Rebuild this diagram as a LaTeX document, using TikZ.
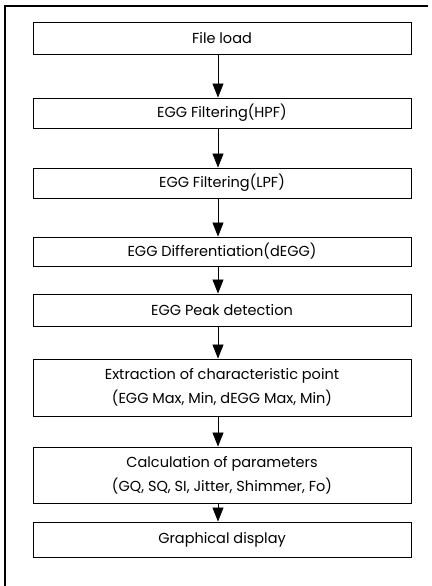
\documentclass[tikz,border=0pt]{standalone}
\usepackage{fontspec}
\setmainfont{Poppins}
\usetikzlibrary{arrows.meta}
\begin{document}
\begin{tikzpicture}[x=1pt,y=-1pt,
  stepbox/.style={draw, line width=0.9pt, minimum width=378pt, inner sep=0pt, align=center, font=\fontsize{14.5}{24}\selectfont},
  flow/.style={draw, line width=0.8pt, -{Triangle[width=11pt,length=14pt]}},
  frame/.style={draw, line width=1.3pt}]
\useasboundingbox (0,0) rectangle (431,586);
\fill[white] (0,0) rectangle (431,586);
\coordinate (tl) at (5,6);
\coordinate (tr) at (428,6);
\coordinate (bl) at (5,586);
\draw[frame] (tr) -- (tl) -- (bl);
\node[stepbox, minimum height=32pt] (s1) at (222,38) {File load};
\node[stepbox, minimum height=30pt] (s2) at (222,113) {EGG Filtering(HPF)};
\node[stepbox, minimum height=30pt] (s3) at (222,183) {EGG Filtering(LPF)};
\node[stepbox, minimum height=29pt] (s4) at (222,251.5) {EGG Differentiation(dEGG)};
\node[stepbox, minimum height=32pt] (s5) at (222,310) {EGG Peak detection};
\node[stepbox, minimum height=57pt] (s6) at (222,387.5) {Extraction of characteristic point\\(EGG Max, Min, dEGG Max, Min)};
\node[stepbox, minimum height=56pt] (s7) at (222,475) {Calculation of parameters\\(GQ, SQ, SI, Jitter, Shimmer, Fo)};
\node[stepbox, minimum height=35pt] (s8) at (222,539.5) {Graphical display};
\foreach \a/\b in {s1/s2,s2/s3,s3/s4,s4/s5,s5/s6,s6/s7,s7/s8}
  \draw[flow] ([xshift=-4pt]\a.south) -- ([xshift=-4pt]\b.north);
\end{tikzpicture}
\end{document}
